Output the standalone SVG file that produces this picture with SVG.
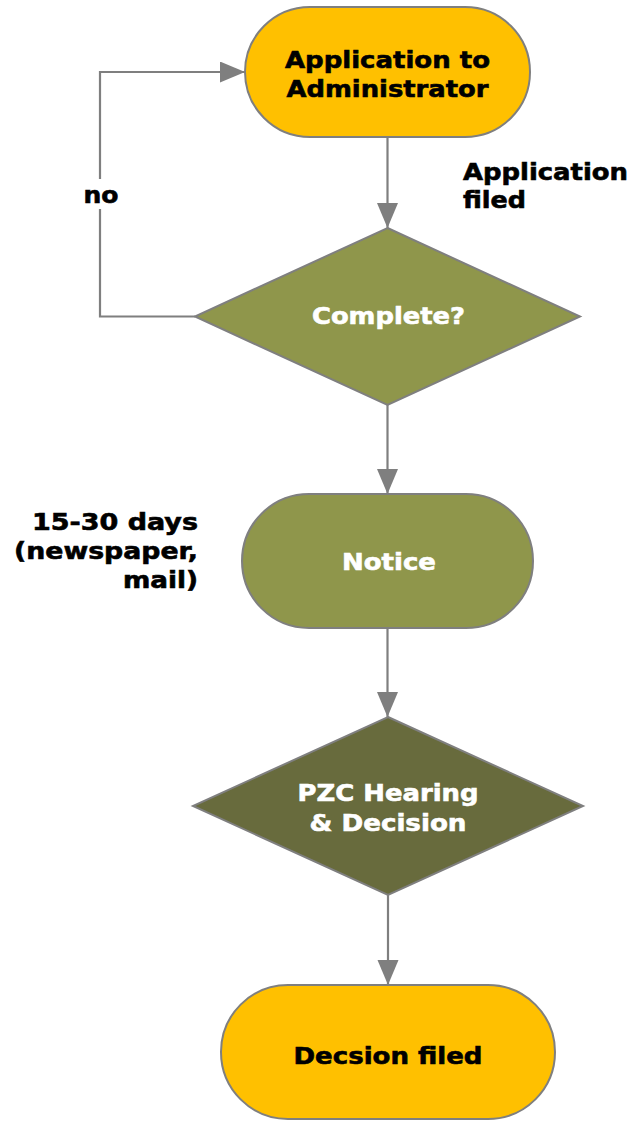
<svg xmlns="http://www.w3.org/2000/svg" width="631" height="1122" viewBox="0 0 631 1122">
  <style>
    .node { stroke: #7f7f7f; stroke-width: 2; }
    .gold { fill: #ffc000; }
    .olive { fill: #8f964b; }
    .dark { fill: #686b3d; }
    .conn { fill: none; stroke: #7f7f7f; stroke-width: 2.2; }
    text { font-family: "DejaVu Sans", Verdana, sans-serif; font-weight: bold; font-size: 23px; stroke-width: 0.6; }
    .mid { text-anchor: middle; }
    .end { text-anchor: end; }
    .blk { fill: #000000; stroke: #000000; }
    .wht { fill: #ffffff; stroke: #ffffff; }
  </style>
  <defs>
    <marker id="arrow" markerUnits="userSpaceOnUse" markerWidth="26" markerHeight="22" refX="25" refY="10.5" orient="auto">
      <path d="M0,0 L25,10.5 L0,21 Z" fill="#7f7f7f"/>
    </marker>
  </defs>

  <!-- connectors -->
  <g id="connectors">
    <path class="conn" d="M387.5,137 V228" marker-end="url(#arrow)"/>
    <path class="conn" d="M387.5,405 V494" marker-end="url(#arrow)"/>
    <path class="conn" d="M387.5,628 V717" marker-end="url(#arrow)"/>
    <path class="conn" d="M388,895 V985" marker-end="url(#arrow)"/>
    <path class="conn" d="M195,316.5 H100 V72 H245" marker-end="url(#arrow)"/>
    <g id="label-no">
      <rect x="80" y="179" width="42" height="30" fill="#ffffff"/>
      <text class="mid blk" x="101" y="203" textLength="35" lengthAdjust="spacingAndGlyphs">no</text>
    </g>
    <g id="label-filed">
      <text class="blk" x="463" y="180" textLength="165" lengthAdjust="spacingAndGlyphs">Application</text>
      <text class="blk" x="463" y="208" textLength="63" lengthAdjust="spacingAndGlyphs">filed</text>
    </g>
    <g id="label-days">
      <text class="end blk" x="198" y="530" textLength="166" lengthAdjust="spacingAndGlyphs">15-30 days</text>
      <text class="end blk" x="198" y="559" textLength="184" lengthAdjust="spacingAndGlyphs">(newspaper,</text>
      <text class="end blk" x="198" y="588" textLength="75" lengthAdjust="spacingAndGlyphs">mail)</text>
    </g>
  </g>

  <g id="application">
    <rect class="node gold" x="245" y="7" width="285" height="130" rx="65" ry="65"/>
    <text class="mid blk" x="387.5" y="68" textLength="205" lengthAdjust="spacingAndGlyphs">Application to</text>
    <text class="mid blk" x="387.5" y="97" textLength="202" lengthAdjust="spacingAndGlyphs">Administrator</text>
  </g>

  <g id="complete">
    <polygon class="node olive" points="387.5,228 580,316.5 387.5,405 195,316.5"/>
    <text class="mid wht" x="388.5" y="324" textLength="153" lengthAdjust="spacingAndGlyphs">Complete?</text>
  </g>

  <g id="notice">
    <rect class="node olive" x="242" y="494" width="291" height="134" rx="67" ry="67"/>
    <text class="mid wht" x="389" y="570" textLength="94" lengthAdjust="spacingAndGlyphs">Notice</text>
  </g>

  <g id="hearing">
    <polygon class="node dark" points="388,717 583,806 388,895 193,806"/>
    <text class="mid wht" x="388" y="801" textLength="181" lengthAdjust="spacingAndGlyphs">PZC Hearing</text>
    <text class="mid wht" x="388" y="831" textLength="157" lengthAdjust="spacingAndGlyphs">&amp; Decision</text>
  </g>

  <g id="decision-filed">
    <rect class="node gold" x="221" y="985" width="334" height="134" rx="67" ry="67"/>
    <text class="mid blk" x="388" y="1064" textLength="189" lengthAdjust="spacingAndGlyphs">Decsion filed</text>
  </g>
</svg>
